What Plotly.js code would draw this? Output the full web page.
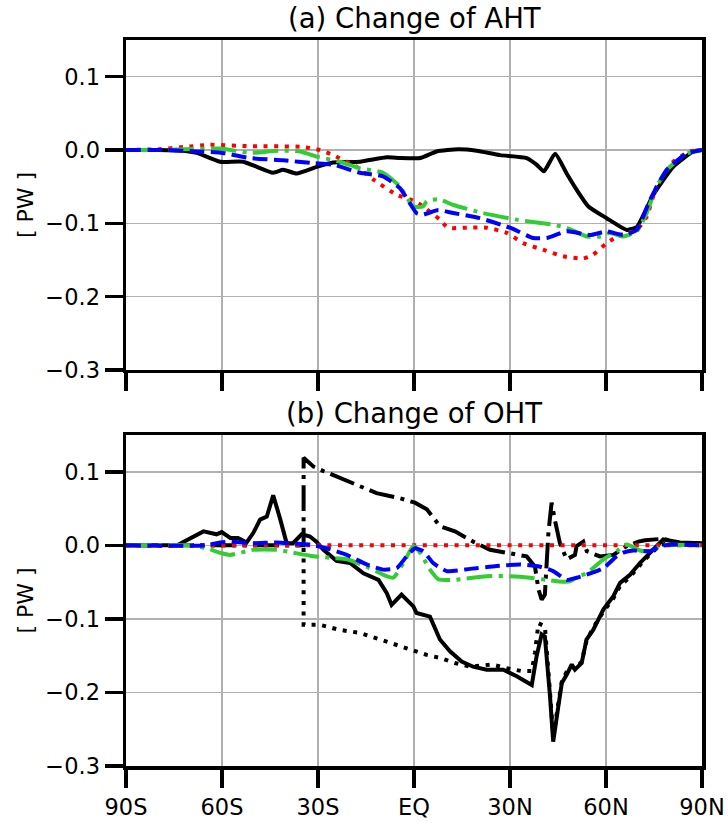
<!DOCTYPE html>
<html>
<head>
<meta charset="utf-8">
<script src="https://cdn.plot.ly/plotly-3.0.1.min.js"></script>
<style>html,body{margin:0;padding:0;background:#fff;}#chart{width:728px;height:829px;}</style>
</head>
<body>
<div id="chart"></div>
<script>
// ---------- Tick labels ----------
const latTicks = [-90, -60, -30, 0, 30, 60, 90];
const latTickText = ["90S", "60S", "30S", "EQ", "30N", "60N", "90N"];
const yTicks = [0.1, 0.0, -0.1, -0.2, -0.3];
const yTickText = ["0.1", "0.0", "\u22120.1", "\u22120.2", "\u22120.3"];

// ---------- Panel (a): Change of AHT ----------
const ahtSolidLat = [-90,-80,-72,-67.9,-60.6,-53.4,-44,-40.9,-36.7,-30.4,-25.3,-16.9,-8.5,-4.4,1.9,7.1,13.8,19.6,26.9,35.2,38.3,40.6,44.1,47.7,50.8,54.5,60.2,66.5,69.6,74.8,81,87.3,90];
const ahtSolid = [0,0,-0.001,-0.004,-0.016,-0.016,-0.031,-0.027,-0.032,-0.023,-0.017,-0.016,-0.010,-0.011,-0.011,-0.002,0.001,-0.001,-0.007,-0.011,-0.020,-0.029,-0.005,-0.032,-0.054,-0.077,-0.093,-0.109,-0.105,-0.061,-0.023,-0.002,0];

const ahtRedLat = [-90,-80,-72,-63.75,-50.3,-35.6,-29.4,-25.3,-17.9,-12.8,-5.4,0.3,3.4,8.1,10.6,16.5,22.7,29,34.1,40.3,46.6,52.8,55.9,60.2,64.4,69.6,72.7,75.8,81,86.2,90];
const ahtRed = [0,0.001,0.004,0.007,0.005,0.0045,0,-0.007,-0.023,-0.040,-0.061,-0.070,-0.079,-0.095,-0.106,-0.106,-0.106,-0.113,-0.127,-0.136,-0.145,-0.148,-0.143,-0.127,-0.116,-0.109,-0.091,-0.050,-0.016,-0.002,0];

const ahtGreenLat = [-90,-80,-72,-60.6,-51.25,-42.9,-35.6,-30.4,-23.1,-16.9,-9.7,-4.4,-0.3,2.8,4,7.6,12.3,21.6,32.1,43.5,47.7,54,58.1,61.25,65.3,69.6,72.7,75.8,79,85.2,90];
const ahtGreen = [0,0,0.001,0.002,-0.004,-0.001,-0.002,-0.009,-0.016,-0.025,-0.031,-0.050,-0.077,-0.077,-0.070,-0.067,-0.075,-0.086,-0.095,-0.102,-0.106,-0.118,-0.118,-0.113,-0.118,-0.111,-0.086,-0.050,-0.027,-0.005,0];

const ahtBlueLat = [-90,-77.3,-67.9,-59.7,-51.25,-40.9,-31.5,-25.3,-16.9,-9.7,-4.4,0.8,2.8,7.6,12.3,20.6,30,37.2,41.5,47.7,55,60.2,65.3,69.6,73.75,79,85.2,90];
const ahtBlue = [0,0,-0.002,-0.004,-0.011,-0.014,-0.018,-0.020,-0.031,-0.036,-0.052,-0.086,-0.088,-0.082,-0.086,-0.093,-0.106,-0.120,-0.120,-0.111,-0.116,-0.111,-0.116,-0.109,-0.068,-0.027,-0.005,0];

// ---------- Panel (b): Change of OHT ----------
const ohtSolidLat = [-90,-74,-65.8,-61.7,-60.1,-57.4,-55,-52.3,-50.2,-48.1,-46,-44,-41.9,-39.8,-37.8,-35.1,-32.5,-30.5,-28.3,-24.2,-20,-15.8,-11.1,-8.5,-7,-3.9,-0.2,0.8,5,8.1,11.25,14.9,18.5,22.7,27.9,32.1,36.8,38.3,39.9,40.9,42.5,43.5,45.1,46.2,47.7,49.3,50.3,52.4,53.9,56,59.2,62.3,64.4,67.5,70.6,73.75,75.8,77.9,83.1,90];
const ohtSolid = [0,0,0.019,0.015,0.018,0.010,0.010,0.004,0.017,0.035,0.039,0.068,0.037,0.003,0.003,0.015,0.012,0.005,-0.006,-0.021,-0.024,-0.038,-0.047,-0.065,-0.081,-0.067,-0.083,-0.092,-0.097,-0.128,-0.144,-0.158,-0.165,-0.169,-0.169,-0.178,-0.190,-0.151,-0.121,-0.124,-0.205,-0.267,-0.219,-0.187,-0.176,-0.162,-0.169,-0.160,-0.128,-0.115,-0.087,-0.069,-0.051,-0.040,-0.024,-0.010,-0.001,0.008,0.004,0.003];

const ohtDotLat = [-90,-34.5,-34.5,-29.4,-23.1,-16.9,-10.6,-4.4,4,8.1,12.8,17.5,24.3,29,33.7,36.8,37.8,38.9,40.9,42.5,43.5,45.1,46.2,47.7,49.3,50.3,52.4,53.9,56,59.2,62.3,64.4,67.5,70.6,73.75,76.9,80,85,90];
const ohtDot = [0,0,-0.108,-0.108,-0.115,-0.119,-0.128,-0.137,-0.149,-0.153,-0.160,-0.165,-0.162,-0.167,-0.171,-0.171,-0.146,-0.106,-0.110,-0.200,-0.260,-0.215,-0.185,-0.172,-0.165,-0.168,-0.158,-0.130,-0.112,-0.090,-0.072,-0.055,-0.043,-0.027,-0.012,0.000,0.004,0.002,0.002];

const ohtDashDotLat = [-90,-34.5,-34.5,-31.4,-28.3,-23.1,-17.9,-11.7,-4.4,0.3,4,8.1,12.8,18.5,23.75,29,35.2,37.8,38.9,39.9,40.9,42,43,44.1,45.6,47.7,50.3,50.8,52.9,54,58.1,62.3,66.5,70.1,72.2,77.9,83.1,90];
const ohtDashDot = [0,0,0.119,0.107,0.101,0.092,0.083,0.071,0.064,0.058,0.049,0.026,0.019,0.005,-0.006,-0.010,-0.015,-0.029,-0.060,-0.074,-0.067,0.017,0.058,0.033,0.003,-0.019,-0.013,-0.001,0.005,-0.008,-0.015,-0.013,-0.001,0.005,0.007,0.009,0.003,0.003];

const ohtRedLat = [-90, 90];
const ohtRed = [0, 0];

const ohtGreenLat = [-90,-70,-64.8,-60.6,-57.5,-50.2,-42.9,-37.7,-32.5,-26.25,-21,-14.8,-9.6,-6.5,-3.3,-0.2,1.9,5,7.6,12.3,22.7,30,36.25,41.5,45.1,48.75,51.4,53.9,59.2,63.3,66.5,70.6,73.75,77.8,90];
const ohtGreen = [0,0,-0.004,-0.010,-0.013,-0.006,-0.006,-0.010,-0.014,-0.017,-0.019,-0.029,-0.040,-0.044,-0.024,-0.001,-0.010,-0.033,-0.046,-0.047,-0.042,-0.042,-0.044,-0.047,-0.049,-0.049,-0.042,-0.038,-0.019,-0.008,0.001,-0.007,-0.008,0,0];

const ohtBlueLat = [-90,-65,-61.7,-57.5,-50.2,-42.9,-35.6,-32.5,-27.3,-21,-14.8,-9.6,-5.4,-2.3,0.3,2.9,6,10.2,17.5,25.8,33.1,39.4,43.5,47.7,50.8,53.9,59.2,63.3,65.4,68.5,73.75,76.9,82,90];
const ohtBlue = [0,0,0.003,0.005,0.003,0.004,0.002,0.001,-0.004,-0.013,-0.026,-0.033,-0.031,-0.015,-0.004,-0.008,-0.024,-0.035,-0.032,-0.028,-0.026,-0.029,-0.035,-0.047,-0.044,-0.040,-0.031,-0.015,-0.010,-0.007,-0.008,-0.001,0.001,0];

// ---------- Styles ----------
const LW = 4;
const DOT = "4px,6.6px";
const DASH = "14.8px,6.4px";
const DASHDOT = "25.6px,6.4px,4px,6.4px";
const GREEN = "#32cd32";

function tr(x, y, color, dash, xa, ya, smooth) {
  return {x: x, y: y, type: "scatter", mode: "lines", xaxis: xa, yaxis: ya,
          line: {color: color, width: LW, dash: dash, shape: smooth ? "spline" : "linear", smoothing: 0.5},
          hoverinfo: "skip", showlegend: false};
}

const data = [
  tr(ahtSolidLat, ahtSolid, "#000000", "solid", "x", "y", true),
  tr(ahtRedLat, ahtRed, "#ff0000", DOT, "x", "y", true),
  tr(ahtGreenLat, ahtGreen, GREEN, DASHDOT, "x", "y", true),
  tr(ahtBlueLat, ahtBlue, "#0000ff", DASH, "x", "y", true),

  tr(ohtSolidLat, ohtSolid, "#000000", "solid", "x2", "y2", false),
  tr(ohtDotLat, ohtDot, "#000000", DOT, "x2", "y2", false),
  tr(ohtDashDotLat, ohtDashDot, "#000000", DASHDOT, "x2", "y2", false),
  tr(ohtRedLat, ohtRed, "#ff0000", DOT, "x2", "y2", false),
  tr(ohtGreenLat, ohtGreen, GREEN, DASHDOT, "x2", "y2", true),
  tr(ohtBlueLat, ohtBlue, "#0000ff", DASH, "x2", "y2", true)
];

const FONT = "DejaVu Sans, sans-serif";
function xax(anchor, labels) {
  return {anchor: anchor, range: [-90, 90], tickmode: "array", tickvals: latTicks, ticktext: latTickText,
          showticklabels: labels, ticks: "outside", ticklen: 18, tickwidth: 3.5, tickcolor: "#000",
          showline: true, linewidth: 3.5, linecolor: "#000", mirror: true,
          showgrid: true, gridcolor: "#b0b0b0", gridwidth: 1.5, zeroline: false,
          tickfont: {family: FONT, size: 22.5, color: "#000"}};
}
function yax(anchor, domain) {
  return {anchor: anchor, domain: domain, range: [-0.3, 0.15], tickmode: "array", tickvals: yTicks, ticktext: yTickText,
          ticks: "outside", ticklen: 18, tickwidth: 3.5, tickcolor: "#000",
          showline: true, linewidth: 3.5, linecolor: "#000", mirror: true,
          showgrid: true, gridcolor: "#b0b0b0", gridwidth: 1.5, zeroline: false,
          tickfont: {family: FONT, size: 22.5, color: "#000"}};
}

const layout = {
  width: 728, height: 829,
  margin: {l: 126, r: 26, t: 40, b: 63},
  paper_bgcolor: "#fff", plot_bgcolor: "#fff",
  font: {family: FONT, color: "#000"},
  xaxis: xax("y", false),
  yaxis: yax("x", [0.5455, 1]),
  xaxis2: xax("y2", true),
  yaxis2: yax("x2", [0, 0.4559]),
  annotations: [
    {text: "(a) Change of AHT", xref: "paper", yref: "paper", x: 0.5, y: 1.0303, xanchor: "center", yanchor: "middle", showarrow: false, font: {family: FONT, size: 27.5, color: "#000"}},
    {text: "(b) Change of OHT", xref: "paper", yref: "paper", x: 0.5, y: 0.4862, xanchor: "center", yanchor: "middle", showarrow: false, font: {family: FONT, size: 27.5, color: "#000"}},
    {text: "[ PW ]", xref: "paper", yref: "paper", x: -0.1753, y: 0.7727, xanchor: "center", yanchor: "middle", textangle: -90, showarrow: false, font: {family: FONT, size: 22, color: "#000"}},
    {text: "[ PW ]", xref: "paper", yref: "paper", x: -0.1753, y: 0.2280, xanchor: "center", yanchor: "middle", textangle: -90, showarrow: false, font: {family: FONT, size: 22, color: "#000"}}
  ]
};

Plotly.newPlot("chart", data, layout, {displayModeBar: false, staticPlot: true});
</script>
</body>
</html>
